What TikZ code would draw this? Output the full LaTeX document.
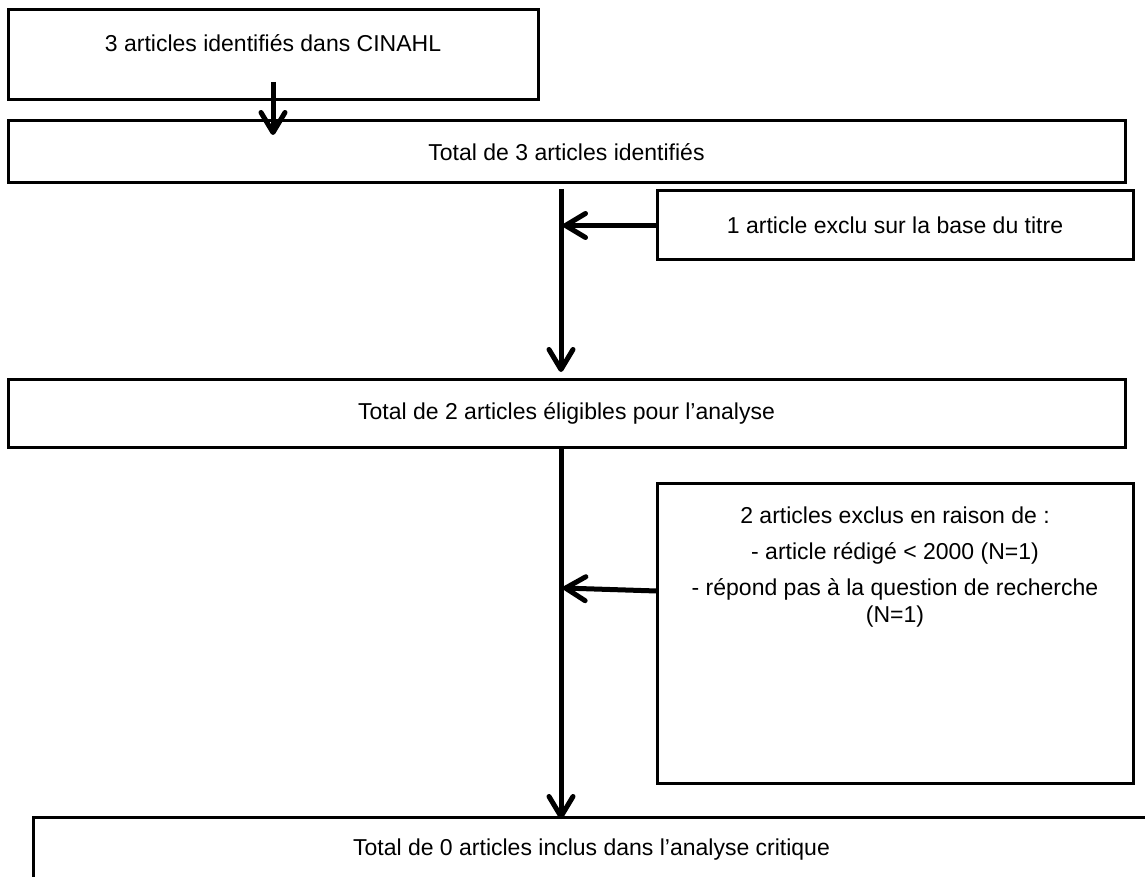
\documentclass[tikz,border=0pt]{standalone}
\usepackage{fontspec}
\setmainfont{Liberation Sans}
\usetikzlibrary{arrows.meta, positioning}

\begin{document}
\begin{tikzpicture}[
        x=1pt, y=-1pt,
        every node/.style={font=\fontsize{23}{28}\selectfont},
        box/.style={rectangle, draw=black, line width=3pt, inner sep=0pt, outer sep=0pt},
        flow/.style={line width=5pt, -{Straight Barb[length=20pt, width=24pt, line cap=round, line join=round]}}
    ]
        \useasboundingbox (0,0) rectangle (1145,877);

        % Search
        \node[box, minimum width=530, minimum height=90] (cinahl) at (273,55) {};
        \node (cinahltxt) at (273,43) {3 articles identifiés dans CINAHL};

        % Identification
        \node[box, minimum width=1117, minimum height=62] (total3) at (566.5,152) {Total de 3 articles identifiés};

        % Exclusion on title
        \node[box, minimum width=476, minimum height=69] (excl1) at (895,225.5) {1 article exclu sur la base du titre};

        % Eligibility
        \node[box, minimum width=1117, minimum height=68] (elig) at (566.5,413) {Total de 2 articles éligibles pour l’analyse};

        % Exclusion on content
        \node[box, minimum width=476, minimum height=300] (excl2) at (895,633) {};
        \node[anchor=north, inner sep=0pt, align=center] (excl2txt) at (895,507)
            {2 articles exclus en raison de :\\[8pt]
             - article rédigé < 2000 (N=1)\\[8pt]
             - répond pas à la question de recherche\\[-1pt]
             (N=1)};

        % Inclusion
        \node[box, minimum width=1117, minimum height=66] (incl) at (591.5,850) {Total de 0 articles inclus dans l’analyse critique};

        % Arrows
        \coordinate (spine) at (561,0);
        \draw[flow] ([yshift=18pt]cinahl.south) -- ([yshift=-14pt]total3.north -| cinahl.south);
        \draw[flow] ([yshift=-6pt]spine |- total3.south) -- ([yshift=7pt]spine |- elig.north);
        \draw[flow] (excl1.west) -- ([xshift=2pt]spine |- excl1.west);
        \draw[line width=5pt] (spine |- elig.south) -- ([yshift=6pt]spine |- incl.north);
        \draw[flow] ([yshift=6pt]spine |- incl.north) -- ([yshift=-2pt]spine |- incl.north);
        \draw[flow] ([yshift=42pt]excl2.west) -- ([xshift=2pt, yshift=45pt]spine |- excl2.west);

    \end{tikzpicture}
\end{document}
